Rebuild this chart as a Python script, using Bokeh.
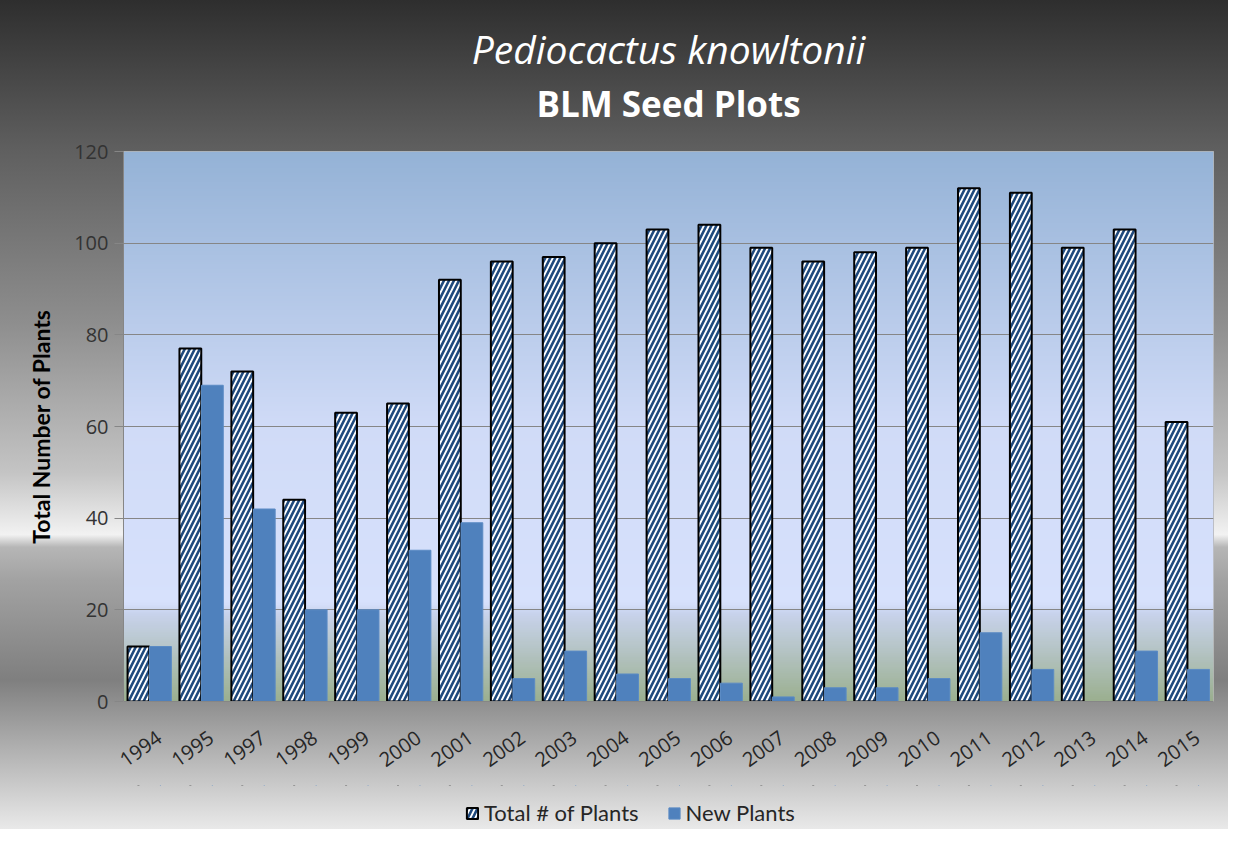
import numpy as np
from bokeh.plotting import figure
from bokeh.layouts import column
from bokeh.models import (ColumnDataSource, FixedTicker, Legend, LegendItem, Label,
                          CustomJSTickFormatter)
from bokeh.embed import file_html
from bokeh.resources import INLINE

years = ["1994", "1995", "1997", "1998", "1999", "2000", "2001", "2002", "2003", "2004",
         "2005", "2006", "2007", "2008", "2009", "2010", "2011", "2012", "2013", "2014", "2015"]
total_plants = [12, 77, 72, 44, 63, 65, 92, 96, 97, 100, 103, 104, 99, 96, 98, 99, 112, 111, 99, 103, 61]
new_plants = [12, 69, 42, 20, 20, 33, 39, 5, 11, 6, 5, 4, 1, 3, 3, 5, 15, 7, 0, 11, 7]
y_ticks = [0, 20, 40, 60, 80, 100, 120]
series_names = ["Total # of Plants", "New Plants"]
title_lines = ["Pediocactus knowltonii", "BLM Seed Plots"]

idx = np.arange(len(years))
src = ColumnDataSource(dict(
    x_total=idx - 0.212, x_new=idx + 0.212,
    total=total_plants, new=new_plants, year=years))

TOTAL_STYLE = dict(fill_color="white", line_color="black", line_width=2,
                   hatch_pattern="/", hatch_color="#1F497D", hatch_weight=2.6, hatch_scale=10)
NEW_STYLE = dict(fill_color="#4F81BD", line_color="#5B8BC4", line_width=1)

W = 1228
COMMON = dict(width=W, output_backend="svg", toolbar_location=None)

# ---- title strip ----
TH = 131
t = figure(height=TH, x_range=(0, 1), y_range=(0, TH), x_axis_location=None, y_axis_location=None,
           min_border=0, **COMMON)
t.title = None
t.grid.visible = False
t.outline_line_color = None
t.background_fill_alpha = 0
t.border_fill_alpha = 0
t.add_layout(Label(x=0.5, y=83, text=title_lines[0], text_align="center", text_baseline="alphabetic",
                   text_color="white", text_font="Open Sans", text_font_style="italic",
                   text_font_size="39px"))
t.add_layout(Label(x=0.5, y=28, text=title_lines[1], text_align="center", text_baseline="alphabetic",
                   text_color="white", text_font="Open Sans", text_font_style="bold",
                   text_font_size="35px"))

# ---- main chart ----
p = figure(height=654, x_range=(-0.5, len(years) - 0.5), y_range=(0, 120),
           min_border_left=123, min_border_right=15, min_border_top=20, min_border_bottom=84, **COMMON)
p.title = None
p.border_fill_alpha = 0
p.background_fill_color = "#d6e0fb"
p.outline_line_color = "#b4b4b4"

# plot-area gradient (decorative background)
N = 240
stops = [(0.0, (0x94, 0xB2, 0xD6)), (0.5, (0xD0, 0xDB, 0xF7)), (0.82, (0xD7, 0xE1, 0xFC)),
         (0.84, (0xC8, 0xD3, 0xEC)), (1.0, (0x9A, 0xAF, 0x8E))]
img = np.zeros((N, 1), dtype=np.uint32)
view = img.view(dtype=np.uint8).reshape((N, 1, 4))
ts = [s[0] for s in stops]
for row in range(N):
    tt = 1.0 - (row + 0.5) / N  # row 0 is bottom
    for c in range(3):
        view[row, 0, c] = int(round(np.interp(tt, ts, [s[1][c] for s in stops])))
    view[row, 0, 3] = 255
p.image_rgba(image=[img], x=-0.5, y=0, dw=len(years), dh=120, level="image")

bw = 0.42
p.vbar(x="x_total", top="total", width=bw, source=src, **TOTAL_STYLE)
p.vbar(x="x_new", top="new", width=bw, source=src, **NEW_STYLE)

# axes (label anchor nudged right so rotated labels end under their category)
p.xaxis.ticker = FixedTicker(ticks=[float(i) + 0.19 for i in idx])
p.xaxis.formatter = CustomJSTickFormatter(args=dict(labels=years),
                                          code="const i = Math.round(tick); return labels[i] || '';")
p.xaxis.major_label_orientation = 0.62
p.xaxis.major_tick_line_color = None
p.xaxis.minor_tick_line_color = None
p.xaxis.axis_line_color = "#868686"
p.xaxis.major_label_text_font = "Open Sans"
p.xaxis.major_label_text_font_size = "20px"
p.xaxis.major_label_text_color = "#262626"
p.xaxis.major_label_standoff = 28

p.yaxis.ticker = FixedTicker(ticks=y_ticks)
p.yaxis.axis_line_color = "#868686"
p.yaxis.major_tick_line_color = "#868686"
p.yaxis.major_tick_in = 0
p.yaxis.major_tick_out = 9
p.yaxis.minor_tick_line_color = None
p.yaxis.major_label_text_font = "Open Sans"
p.yaxis.major_label_text_font_size = "20px"
p.yaxis.major_label_text_color = "#333333"
p.yaxis.major_label_standoff = 6
p.yaxis.axis_label = "Total Number of Plants"
p.yaxis.axis_label_text_font = "Lato"
p.yaxis.axis_label_text_font_style = "bold"
p.yaxis.axis_label_text_font_size = "23px"
p.yaxis.axis_label_text_color = "black"
p.yaxis.axis_label_standoff = 16

p.xgrid.grid_line_color = None
p.ygrid.grid_line_color = "#868686"
p.ygrid.grid_line_width = 1

# ---- legend strip: degenerate (zero-size) bars far outside its view; only swatches show ----
q = figure(height=44, x_range=(-0.5, len(years) - 0.5), y_range=(-300, -200),
           x_axis_location=None, y_axis_location=None, min_border=0, **COMMON)
q.title = None
q.grid.visible = False
q.outline_line_color = None
q.background_fill_alpha = 0
q.border_fill_alpha = 0
lt = q.vbar(x="x_total", top="total", bottom="total", width=0, source=src, **TOTAL_STYLE)
ln = q.vbar(x="x_new", top="new", bottom="new", width=0, source=src, **NEW_STYLE)
legend = Legend(items=[LegendItem(label=series_names[0], renderers=[lt]),
                       LegendItem(label=series_names[1], renderers=[ln])],
                orientation="horizontal", location=(342, 3),
                background_fill_alpha=0, border_line_color=None,
                label_text_font="Lato", label_text_font_size="22px", label_text_color="#262626",
                glyph_width=14, glyph_height=14, spacing=28, margin=0, padding=2, label_standoff=5)
q.add_layout(legend)

layout = column(t, p, q, spacing=0)
layout.styles = {"background": "linear-gradient(to bottom, #2e2e2e 0%, #5f5f5f 18%, #8e8e8e 39%, "
                               "#c4c4c4 57%, #f2f2f2 64.5%, #b6b6b6 66%, #a2a2a2 70%, #7f7f7f 82%, #e9e9e9 100%)"}

open("out.html", "w").write(file_html(layout, INLINE))
